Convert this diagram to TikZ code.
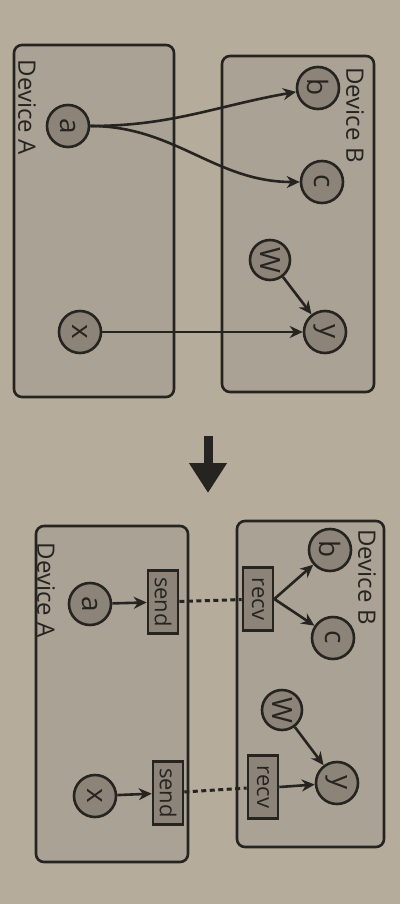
\documentclass[tikz,border=0pt]{standalone}
\usepackage{fontspec}
\setmainfont{Open Sans}
\usepackage{graphicx}
\usetikzlibrary{arrows.meta}
\definecolor{paper}{RGB}{181,172,156}
\definecolor{boxfill}{RGB}{170,162,148}
\definecolor{circfill}{RGB}{140,132,120}
\definecolor{ink}{RGB}{38,36,33}
\newcommand{\rt}[1]{\rotatebox[origin=c]{-90}{#1}}
\begin{document}
\begin{tikzpicture}[x=1pt,y=-1pt,
  device/.style={draw=ink,line width=2.6pt,fill=boxfill,rounded corners=8pt},
  circ/.style={circle,draw=ink,line width=2.6pt,fill=circfill,minimum size=42pt,inner sep=0pt,font=\fontsize{28}{30}\selectfont,text=ink},
  msg/.style={rectangle,draw=ink,line width=2.6pt,fill=circfill,minimum width=30pt,minimum height=63pt,inner sep=0pt,font=\fontsize{22}{24}\selectfont,text=ink},
  lbl/.style={font=\fontsize{24}{26}\selectfont,text=ink,inner sep=0pt},
  edge/.style={draw=ink,line width=2.6pt,-{Stealth[length=13pt,width=12pt]}},
  link/.style={draw=ink,line width=3pt,dash pattern=on 5pt off 3.5pt},
  bigarrow/.style={draw=ink,line width=9pt,-{Triangle[length=30pt,width=36pt]}}]
\fill[paper] (0,0) rectangle (400,904);
\useasboundingbox (0,0) rectangle (400,904);
% ---------- top diagram ----------
\draw[device] (14,45) rectangle (174,397);
\draw[device] (222,56) rectangle (374,392);
\node[lbl] (devA1) at (27,107) {\rt{Device A}};
\node[lbl] (devB1) at (355,115) {\rt{Device B}};
\node[circ] (a1) at (68,126) {\rt{a}};
\node[circ] (b1) at (318,88) {\rt{b}};
\node[circ] (c1) at (322,182) {\rt{c}};
\node[circ,minimum size=40pt] (w1) at (270,260) {\rt{W}};
\node[circ] (y1) at (325,332) {\rt{y}};
\node[circ] (x1) at (80,332) {\rt{x}};
\draw[edge] (a1.east) to[out=0,in=190] (b1);
\draw[edge] (a1.east) to[out=0,in=180] (c1);
\draw[edge] (w1) -- (y1);
\draw[edge] (x1) -- (y1);
% ---------- big arrow ----------
\coordinate (arS) at (208,436);
\coordinate (arE) at (208,493);
\draw[bigarrow] (arS) -- (arE);
% ---------- bottom diagram ----------
\draw[device] (36,526) rectangle (188,862);
\draw[device] (237,521) rectangle (384,847);
\node[lbl] (devA2) at (46,590) {\rt{Device A}};
\node[lbl] (devB2) at (367,577) {\rt{Device B}};
\node[circ] (a2) at (90,604) {\rt{a}};
\node[msg] (s1) at (163,602) {\rt{send}};
\node[msg] (r1) at (258,599) {\rt{recv}};
\node[circ] (b2) at (330,550) {\rt{b}};
\node[circ] (c2) at (333,638) {\rt{c}};
\node[circ,minimum size=40pt] (w2) at (282,710) {\rt{W}};
\node[circ] (y2) at (337,783) {\rt{y}};
\node[circ] (x2) at (95,796) {\rt{x}};
\node[msg] (s2) at (168,793) {\rt{send}};
\node[msg] (r2) at (263,787) {\rt{recv}};
\draw[edge] (a2) -- (s1);
\draw[link] (s1) -- (r1);
\draw[edge] (r1.east) -- (b2);
\draw[edge] (r1.east) -- (c2);
\draw[edge] (w2) -- (y2);
\draw[edge] (x2) -- (s2);
\draw[link] (s2) -- (r2);
\draw[edge] (r2.east) -- (y2);
\end{tikzpicture}
\end{document}
